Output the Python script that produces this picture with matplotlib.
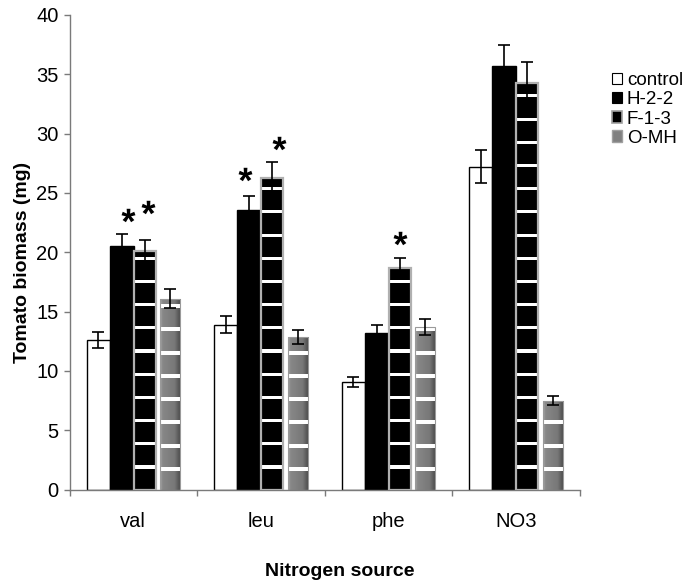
import numpy as np
import matplotlib
matplotlib.use("Agg")
import matplotlib.pyplot as plt
from matplotlib.patches import Patch
from matplotlib.path import Path
from matplotlib.textpath import TextPath
from matplotlib.font_manager import FontProperties

plt.rcParams['font.family'] = ['Liberation Sans', 'DejaVu Sans']

# ---------------- data ----------------
categories = ['val', 'leu', 'phe', 'NO3']
series = ['control', 'H-2-2', 'F-1-3', 'O-MH']
control = [12.6, 13.9, 9.05, 27.2]
control_err = [0.65, 0.7, 0.45, 1.4]
h22 = [20.5, 23.6, 13.2, 35.7]
h22_err = [1.0, 1.1, 0.7, 1.8]
f13 = [20.1, 26.3, 18.7, 34.3]
f13_err = [0.9, 1.3, 0.8, 1.7]
omh = [16.1, 12.85, 13.7, 7.5]
omh_err = [0.8, 0.6, 0.7, 0.4]

# significance stars: category index, series index, height (mg)
star_cat = [0, 0, 1, 1, 2]
star_ser = [1, 2, 1, 2, 2]
star_y = [23.1, 23.8, 26.6, 29.2, 21.2]

values = [control, h22, f13, omh]
errors = [control_err, h22_err, f13_err, omh_err]

# ---------------- layout ----------------
W, H = 694, 587
fig = plt.figure(figsize=(W / 100, H / 100), dpi=100)
ax = fig.add_axes([69.5 / W, 1 - 489.5 / H, 510 / W, 474.5 / H])

x = np.arange(len(categories))
offsets = [-0.275, -0.09, 0.09, 0.29]
widths = [0.18, 0.185, 0.175, 0.16]
star_dx = [0.05, 0.025, -0.03, 0.055, 0.0]

spine_col = '#7a7a7a'

# control
ax.bar(x + offsets[0], control, widths[0], color='white', edgecolor='black',
       linewidth=1.0, zorder=2)
# H-2-2
ax.bar(x + offsets[1], h22, widths[1], color='black', edgecolor='black',
       linewidth=1.0, zorder=2)
# F-1-3 : black with white horizontal stripes, light grey frame
fx = x + offsets[2]
ax.bar(fx, f13, widths[2], color='black', edgecolor='none', zorder=2)
for xi, v in zip(fx, f13):
    centers = np.arange(1.9, v, 1.955)
    centers = centers[centers + 0.14 < v]
    ax.bar(np.full(len(centers), xi), 0.26, widths[2], bottom=centers - 0.13,
           color='white', edgecolor='none', zorder=3)
ax.bar(fx, f13, widths[2], fill=False, edgecolor='#b0b0b0', linewidth=1.6,
       zorder=4)

# O-MH : grey gradient with white stripes
ox = x + offsets[3]
grad = np.interp(np.linspace(0, 1, 64), [0, 0.12, 0.7, 1.0],
                 [0.66, 0.53, 0.47, 0.28])[None, :]
obars = ax.bar(ox, omh, widths[3], color='none', edgecolor='#9a9a9a',
               linewidth=0.8, zorder=4)
for rect, xi, v in zip(obars, ox, omh):
    im = ax.imshow(grad, cmap='gray', vmin=0, vmax=1, aspect='auto',
                   extent=(xi - widths[3] / 2, xi + widths[3] / 2, 0, v),
                   zorder=2, interpolation='bilinear')
    im.set_clip_path(rect)
    centers = np.arange(1.73, v, 1.96)
    centers = centers[centers + 0.18 < v]
    ax.bar(np.full(len(centers), xi), 0.34, widths[3] + 0.01,
           bottom=centers - 0.17, color='white', edgecolor='none', zorder=3)

# error bars
for k in range(4):
    ax.errorbar(x + offsets[k], values[k], yerr=errors[k], fmt='none',
                ecolor='black', elinewidth=1.2, capsize=4, capthick=1.2,
                zorder=5)

# stars (asterisk glyph used as a centred marker)
fp = FontProperties(family='Liberation Sans', weight='bold')
tp = TextPath((0, 0), '*', prop=fp, size=10)
verts = tp.vertices.copy()
codes = tp.codes
mask = codes != Path.CLOSEPOLY
c = (verts[mask].min(axis=0) + verts[mask].max(axis=0)) / 2
verts = verts - c
verts[~mask] = 0.0
star_marker = Path(verts, codes)
sx = [x[ci] + offsets[si] + dx for ci, si, dx in zip(star_cat, star_ser, star_dx)]
ax.plot(sx, star_y, linestyle='none', marker=star_marker, markersize=10,
        color='black', markeredgewidth=0, zorder=6)

# axes styling
ax.set_xlim(-0.5, 3.5)
ax.set_ylim(0, 40)
ax.set_yticks(np.arange(0, 41, 5))
ax.set_yticklabels([str(t) for t in range(0, 41, 5)])
ax.set_xticks(x)
ax.set_xticklabels(categories)
ax.set_xticks(np.arange(-0.5, 4.0, 1.0), minor=True)
ax.tick_params(axis='x', which='major', length=0, pad=16, labelsize=14.5)
ax.tick_params(axis='x', which='minor', length=4.5, width=1.0,
               color=spine_col, direction='out')
ax.tick_params(axis='y', length=4, width=1.0, color=spine_col, pad=4,
               labelsize=14.5)
for s in ['top', 'right']:
    ax.spines[s].set_visible(False)
for s in ['left', 'bottom']:
    ax.spines[s].set_color(spine_col)
    ax.spines[s].set_linewidth(1.0)

fig.text(22.5 / W, 1 - 262 / H, 'Tomato biomass (mg)', rotation=90,
         ha='center', va='center', fontsize=14, fontweight='bold')
fig.text(340 / W, 1 - 572 / H, 'Nitrogen source', ha='center',
         va='center', fontsize=14, fontweight='bold')

handles = [Patch(facecolor='white', edgecolor='black', linewidth=0.8),
           Patch(facecolor='black', edgecolor='black', linewidth=0.8),
           Patch(facecolor='black', edgecolor='#a0a0a0', linewidth=1.2),
           Patch(facecolor='#808080', edgecolor='#a0a0a0', linewidth=1.0)]
fig.legend(handles, series, loc='upper left',
           bbox_to_anchor=(612 / W, 1 - 72 / H), frameon=False,
           fontsize=13.5, handlelength=0.55, handleheight=0.55,
           handletextpad=0.25, labelspacing=0.12, borderpad=0,
           borderaxespad=0)

fig.savefig('out.png', dpi=100)
